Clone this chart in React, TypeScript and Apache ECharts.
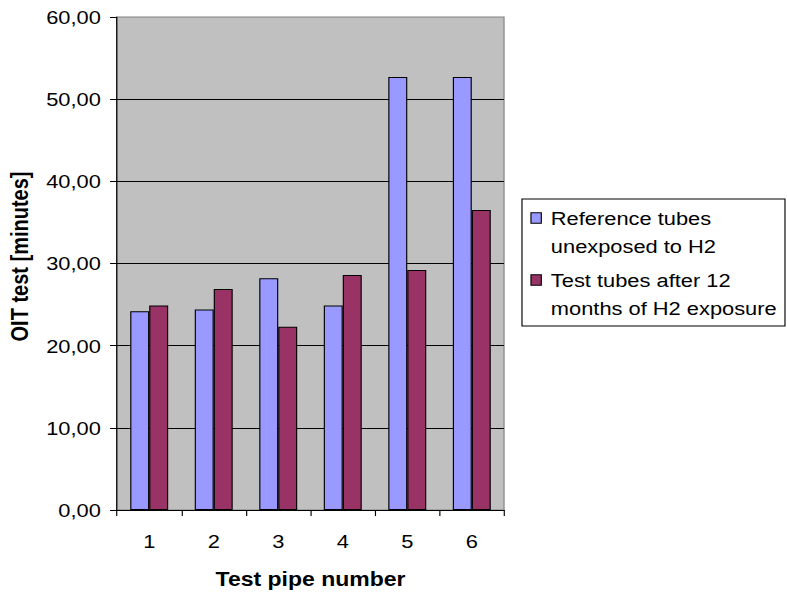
import React, { useEffect, useRef } from "react";
import * as echarts from "echarts";

const categories = ["1", "2", "3", "4", "5", "6"];
const seriesNames = ["Reference tubes\nunexposed to H2", "Test tubes after 12\nmonths of H2 exposure"];
const referenceValues = [24.2, 24.4, 28.2, 24.9, 52.7, 52.7];
const testValues = [24.9, 26.9, 22.3, 28.6, 29.2, 36.5];
const seriesColors = ["#9999FF", "#993366"];
const yTicks = { min: 0, max: 60, interval: 10 };

const SX = 1.15;
const W = 684;
const H = 598;
const FONT = "'Liberation Sans', Arial, sans-serif";

export default function App() {
  const ref = useRef<HTMLDivElement>(null);
  useEffect(() => {
    if (!ref.current) return;
    const chart = echarts.init(ref.current, undefined, { renderer: "svg", width: W, height: H });
    const legendItems: any[] = [];
    seriesNames.forEach((name, i) => {
      const cy = 218 + i * 62;
      legendItems.push({
        type: "rect",
        shape: { x: 461.7, y: cy - 5.2, width: 9, height: 10.5 },
        style: { fill: seriesColors[i], stroke: "#000", lineWidth: 1 },
      });
      legendItems.push({
        type: "text",
        x: 479,
        y: cy - 14,
        style: {
          text: name,
          fontSize: 19,
          fontFamily: FONT,
          lineHeight: 28,
          fill: "#000",
          verticalAlign: "top",
          align: "left",
        },
      });
    });
    chart.setOption({
      animation: false,
      backgroundColor: "#fff",
      textStyle: { fontFamily: FONT, color: "#000" },
      grid: {
        left: 101.7,
        right: 245.7,
        top: 17,
        bottom: 88,
        show: true,
        backgroundColor: "#C0C0C0",
        borderColor: "#808080",
        borderWidth: 1,
      },
      xAxis: {
        type: "category",
        data: categories,
        name: "Test pipe number",
        nameLocation: "middle",
        nameGap: 59,
        nameTextStyle: { fontSize: 20, fontWeight: "bold", color: "#000", fontFamily: FONT },
        axisLine: { lineStyle: { color: "#000", width: 1 } },
        axisTick: { show: true, length: 6, lineStyle: { color: "#000" } },
        axisLabel: { fontSize: 19, color: "#000", margin: 22, fontFamily: FONT },
      },
      yAxis: {
        type: "value",
        min: yTicks.min,
        max: yTicks.max,
        interval: yTicks.interval,
        name: "OIT test [minutes]",
        nameLocation: "middle",
        nameRotate: 90,
        nameGap: 74,
        nameTextStyle: { fontSize: 20, fontWeight: "bold", color: "#000", fontFamily: FONT, padding: [0, 0, 0, 14] },
        axisLine: { show: true, lineStyle: { color: "#000", width: 1 } },
        axisTick: { show: true, length: 6, lineStyle: { color: "#000" } },
        axisLabel: {
          fontSize: 19,
          color: "#000",
          margin: 14,
          fontFamily: FONT,
          formatter: (v: number) => v.toFixed(2).replace(".", ","),
        },
        splitLine: { show: true, showMaxLine: false, lineStyle: { color: "#000", width: 1 } },
      },
      series: [
        {
          name: seriesNames[0],
          type: "bar",
          data: referenceValues,
          barWidth: 16.5,
          barGap: "0%",
          itemStyle: { color: seriesColors[0], borderColor: "#000", borderWidth: 1 },
        },
        {
          name: seriesNames[1],
          type: "bar",
          data: testValues,
          barWidth: 16.5,
          barGap: "0%",
          itemStyle: { color: seriesColors[1], borderColor: "#000", borderWidth: 1 },
        },
      ],
      graphic: [
        {
          type: "rect",
          shape: { x: 453.9, y: 199, width: 228.7, height: 127 },
          style: { fill: "#fff", stroke: "#000", lineWidth: 1 },
        },
        ...legendItems,
      ],
    });
    return () => chart.dispose();
  }, []);
  return (
    <div
      ref={ref}
      style={{
        position: "absolute",
        left: 0,
        top: 0,
        width: W,
        height: H,
        transform: `scaleX(${SX})`,
        transformOrigin: "0 0",
      }}
    />
  );
}
